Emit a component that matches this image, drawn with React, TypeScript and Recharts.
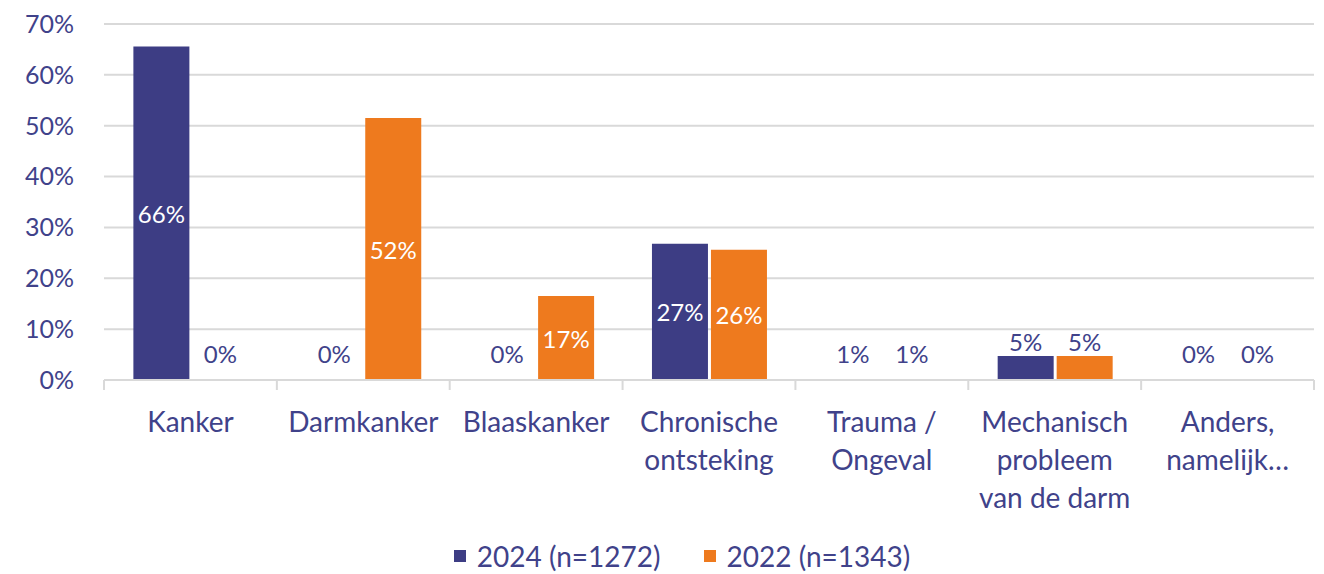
import { BarChart, Bar, XAxis, YAxis, CartesianGrid, Legend, LabelList } from 'recharts';

const CATEGORIES = [
  'Kanker',
  'Darmkanker',
  'Blaaskanker',
  'Chronische\nontsteking',
  'Trauma /\nOngeval',
  'Mechanisch\nprobleem\nvan de darm',
  'Anders,\nnamelijk…',
];
const VALUES_2024 = [65.6, 0, 0, 26.8, 0, 4.7, 0];
const VALUES_2022 = [0, 51.5, 16.5, 25.6, 0, 4.7, 0];
const LABELS_2024 = ['66%', '0%', '0%', '27%', '1%', '5%', '0%'];
const LABELS_2022 = ['0%', '52%', '17%', '26%', '1%', '5%', '0%'];
const SERIES_NAMES = ['2024 (n=1272)', '2022 (n=1343)'];
const Y_TICKS = [0, 10, 20, 30, 40, 50, 60, 70];

const W = 1324;
const H = 574;
const MARGIN = { top: 24, right: 10, left: 0, bottom: 0 };
const Y_WIDTH = 104;
const BAND = (W - MARGIN.left - MARGIN.right - Y_WIDTH) / CATEGORIES.length;

const BLUE = '#3d3d84';
const ORANGE = '#ee7a1e';
const TEXT = '#40428a';
const GRID = '#d9d9d9';
const FONT = 'Lato, "Open Sans", sans-serif';

const data = CATEGORIES.map((name, i) => ({
  name,
  y2024: VALUES_2024[i],
  y2022: VALUES_2022[i],
  l2024: LABELS_2024[i],
  l2022: LABELS_2022[i],
}));

function CategoryTick(props: any) {
  const { x, y, payload, index } = props;
  const lines = String(payload.value).split('\n');
  const left = x - BAND / 2;
  return (
    <g>
      <line x1={left} x2={left} y1={y} y2={y + 10} stroke={GRID} strokeWidth={2} />
      {index === CATEGORIES.length - 1 && (
        <line x1={left + BAND} x2={left + BAND} y1={y} y2={y + 10} stroke={GRID} strokeWidth={2} />
      )}
      <text x={x} y={y + 41} textAnchor="middle" fill={TEXT} fontSize={28} fontFamily={FONT}>
        {lines.map((l, i) => (
          <tspan key={i} x={x} dy={i === 0 ? 0 : 38} dominantBaseline="central">
            {l}
          </tspan>
        ))}
      </text>
    </g>
  );
}

function BarLabel(props: any) {
  const { x, y, width, height, value } = props;
  const cx = x + width / 2;
  const inside = height > 40;
  const cy = inside ? y + height / 2 : Math.min(y - 15, y + height - 27);
  return (
    <text
      x={cx}
      y={cy}
      textAnchor="middle"
      dominantBaseline="central"
      fill={inside ? '#ffffff' : TEXT}
      fontSize={24}
      fontFamily={FONT}
    >
      {value}
    </text>
  );
}

function LegendContent() {
  const colors = [BLUE, ORANGE];
  return (
    <div
      style={{
        height: 60,
        boxSizing: 'border-box',
        paddingTop: 23,
        paddingLeft: 50,
        display: 'flex',
        justifyContent: 'center',
        gap: 43,
        fontFamily: FONT,
        fontSize: 28,
        lineHeight: '26px',
        color: TEXT,
      }}
    >
      {SERIES_NAMES.map((n, i) => (
        <div key={n} style={{ display: 'flex', alignItems: 'center' }}>
          <span style={{ width: 12, height: 12, background: colors[i], marginRight: 11 }} />
          <span>{n}</span>
        </div>
      ))}
    </div>
  );
}

export default function App() {
  return (
    <div style={{ position: 'absolute', left: 0, top: 0, width: W, height: H, background: '#fff' }}>
      <BarChart
        width={W}
        height={H}
        data={data}
        margin={MARGIN}
        barCategoryGap="17%"
        barGap={3}
      >
        <CartesianGrid vertical={false} stroke={GRID} strokeWidth={2} />
        <XAxis
          dataKey="name"
          height={134}
          tickLine={false}
          tickSize={0}
          tickMargin={0}
          axisLine={{ stroke: GRID, strokeWidth: 2 }}
          tick={<CategoryTick />}
          interval={0}
        />
        <YAxis
          width={Y_WIDTH}
          domain={[0, 70]}
          ticks={Y_TICKS}
          axisLine={false}
          tickLine={false}
          tickSize={0}
          tickMargin={30}
          tickFormatter={(v: number) => `${v}%`}
          tick={{ fill: TEXT, fontSize: 25, fontFamily: FONT }}
        />
        <Legend verticalAlign="bottom" content={<LegendContent />} />
        <Bar dataKey="y2024" name={SERIES_NAMES[0]} fill={BLUE} minPointSize={0.01} isAnimationActive={false}>
          <LabelList dataKey="l2024" content={<BarLabel />} />
        </Bar>
        <Bar dataKey="y2022" name={SERIES_NAMES[1]} fill={ORANGE} minPointSize={0.01} isAnimationActive={false}>
          <LabelList dataKey="l2022" content={<BarLabel />} />
        </Bar>
      </BarChart>
    </div>
  );
}
